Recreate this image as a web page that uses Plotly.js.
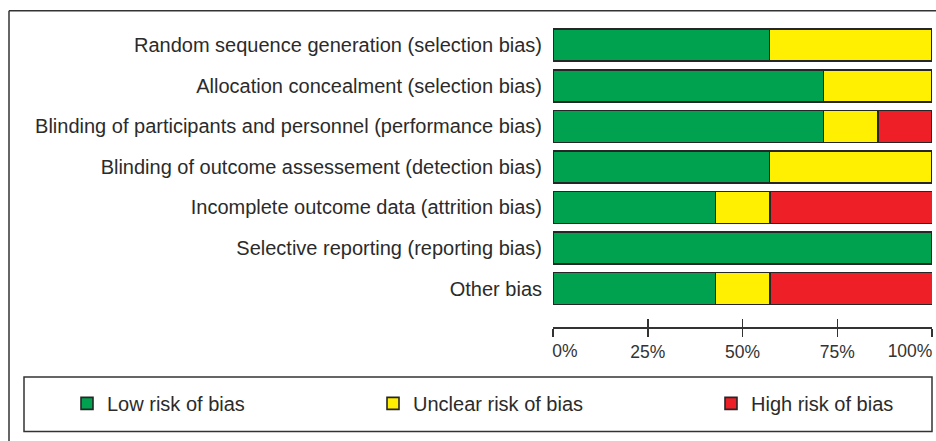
<!DOCTYPE html>
<html>
<head>
<meta charset="utf-8">
<script src="https://cdn.plot.ly/plotly-3.0.1.min.js"></script>
<style>html,body{margin:0;padding:0;background:#fff;overflow:hidden;}#chart{width:936px;height:441px;}</style>
</head>
<body>
<div id="chart"></div>
<script>
// Risk of bias domains (top to bottom)
const domains = [
  "Random sequence generation (selection bias)",
  "Allocation concealment (selection bias)",
  "Blinding of participants and personnel (performance bias)",
  "Blinding of outcome assessement (detection bias)",
  "Incomplete outcome data (attrition bias)",
  "Selective reporting (reporting bias)",
  "Other bias"
];
// Percent of studies per judgement
const lowRisk     = [57.1, 71.4, 71.4, 57.1, 42.9, 100, 42.9];
const unclearRisk = [42.9, 28.6, 14.3, 42.9, 14.3, 0, 14.3];
const highRisk    = [0, 0, 14.3, 0, 42.9, 0, 42.9];
const seriesNames = ["Low risk of bias", "Unclear risk of bias", "High risk of bias"];
const tickValues  = [0, 25, 50, 75, 100];
const tickLabels  = ["0%", "25%", "50%", "75%", "100%"];

const colors = ["#00A24F", "#FFEF00", "#EE1F26"];
const outline = {color: "#262626", width: 1.6};

const series = [lowRisk, unclearRisk, highRisk];
const legendIds = ["legend", "legend2", "legend3"];
const traces = series.map((vals, i) => ({
  type: "bar",
  orientation: "h",
  x: vals,
  y: domains,
  name: seriesNames[i],
  legend: legendIds[i],
  width: 0.79,
  marker: {color: colors[i], line: outline},
  hoverinfo: "x+y+name"
}));

// pixel helpers for paper coordinates
const L = 553, R = 932, T = 24.7, B = 327;
const px = v => (v - L) / (R - L);
const py = v => (B - v) / (B - T);

const FONT = "'Liberation Sans', Arial, Helvetica, sans-serif";
const TICKFONT = {family: FONT, size: 17.5, color: "#333"};
const legendBase = (xpix) => ({
  x: px(xpix), xanchor: "left", y: py(403.5), yanchor: "middle",
  orientation: "h", bgcolor: "rgba(0,0,0,0)", borderwidth: 0,
  font: {family: FONT, size: 20, color: "#2b2b2b"}
});
const overlayAxis = (extra) => Object.assign({
  overlaying: "x", anchor: "y", side: "bottom", matches: "x",
  range: [0, 100], showgrid: false, zeroline: false, showline: false,
  tickfont: TICKFONT
}, extra);

const frameLine = {color: "#333", width: 1.5};

const layout = {
  width: 936, height: 441,
  margin: {l: L, r: 936 - R, t: T, b: 441 - B, pad: 0},
  paper_bgcolor: "#fff", plot_bgcolor: "#fff",
  barmode: "stack",
  showlegend: true,
  font: {family: FONT, color: "#2b2b2b"},
  xaxis: {
    range: [0, 100], fixedrange: true,
    showgrid: false, zeroline: false,
    showline: true, linecolor: "#333", linewidth: 1.5,
    ticks: "outside", ticklen: 8, tickwidth: 1.5, tickcolor: "#333",
    tickvals: tickValues,
    ticktext: tickLabels.map((t, i) => (i === 0 || i === tickLabels.length - 1) ? "" : t),
    tickfont: TICKFONT
  },
  // upper half of the crossing tick marks
  xaxis2: overlayAxis({
    ticks: "inside", ticklen: 8, tickwidth: 1.5, tickcolor: "#333",
    tickvals: tickValues, ticktext: tickValues.map(() => "")
  }),
  // first label, left-aligned to its tick
  xaxis3: overlayAxis({
    ticks: "outside", ticklen: 8, tickwidth: 1.5, tickcolor: "rgba(0,0,0,0)",
    tickvals: [tickValues[0]], ticktext: [tickLabels[0]],
    ticklabelshift: 12
  }),
  // last label, right-aligned to its tick
  xaxis4: overlayAxis({
    ticks: "outside", ticklen: 8, tickwidth: 1.5, tickcolor: "rgba(0,0,0,0)",
    tickvals: [tickValues[tickValues.length - 1]],
    ticktext: [tickLabels[tickLabels.length - 1]],
    ticklabelshift: -22
  }),
  yaxis: {
    type: "category", categoryorder: "array", categoryarray: domains,
    range: [6.949, -0.5], autorange: false, fixedrange: true,
    showgrid: false, zeroline: false, showline: false,
    ticks: "", ticklabelstandoff: 10,
    tickfont: {family: FONT, size: 20, color: "#2b2b2b"}
  },
  legend: legendBase(107 - 40),
  legend2: legendBase(413 - 40),
  legend3: legendBase(751 - 40),
  shapes: [
    // outer frame: top and left edges (right and bottom lie outside the picture)
    {type: "line", xref: "paper", yref: "paper",
     x0: px(9), x1: px(936), y0: py(10.5), y1: py(10.5), line: frameLine},
    {type: "line", xref: "paper", yref: "paper",
     x0: px(9), x1: px(9), y0: py(10.5), y1: py(441), line: frameLine},
    // legend box
    {type: "rect", xref: "paper", yref: "paper",
     x0: px(24), x1: px(932), y0: py(431.5), y1: py(377),
     line: frameLine, fillcolor: "rgba(0,0,0,0)"}
  ]
};

// invisible traces to activate the overlay axes
const axisHelpers = ["x2", "x3", "x4"].map(ax => ({
  type: "scatter", mode: "markers", x: [0], y: [domains[0]],
  xaxis: ax, yaxis: "y", showlegend: false, hoverinfo: "skip",
  marker: {opacity: 0}
}));

Plotly.newPlot("chart", traces.concat(axisHelpers), layout, {displayModeBar: false, staticPlot: true});
</script>
</body>
</html>
